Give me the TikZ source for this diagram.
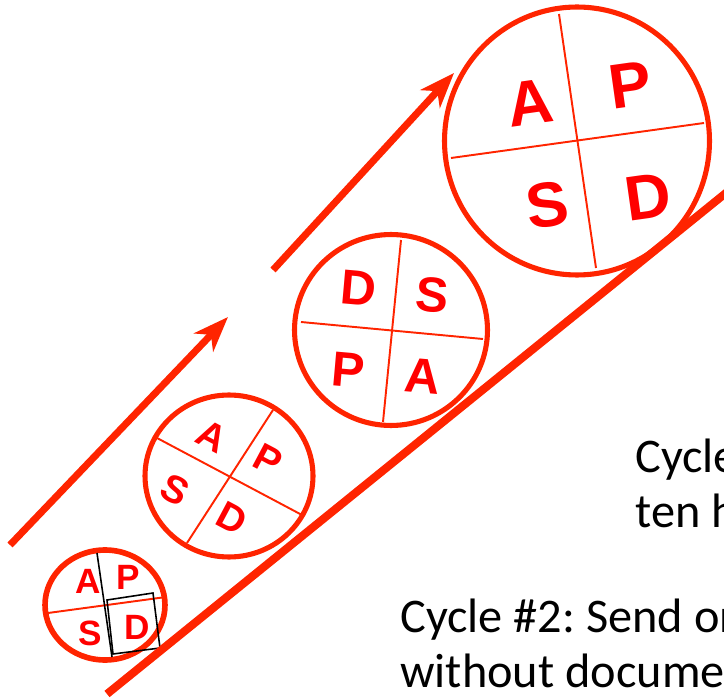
\documentclass[tikz,border=0pt]{standalone}
\usepackage{fontspec}
\setmainfont{Liberation Sans}
\newfontfamily\notefont{Carlito}
\usetikzlibrary{arrows.meta,shapes.geometric}
\definecolor{ringred}{HTML}{FF2400}
\definecolor{letterred}{HTML}{FF0000}
\frenchspacing

\begin{document}
\begin{tikzpicture}[
  x=0.02cm, y=-0.02cm,
  ring/.style={draw=ringred, line width=2.9pt, ellipse, inner sep=0pt},
  quarter/.style={draw=ringred, line width=1.1pt},
  phase/.style={text=letterred, font=\bfseries, inner sep=0pt},
  progress/.style={draw=ringred, line width=4pt,
    -{Stealth[length=20pt, width=15pt, inset=6pt]}},
  note/.style={anchor=base west, inner sep=0pt, align=left,
    font=\notefont\fontsize{27.5}{31.3}\selectfont}
]
\useasboundingbox (0,0) rectangle (724,699);
\clip (0,0) rectangle (724,699);

% Cycle 1: small, with the black box on D
\node[ring, minimum width=2.4cm, minimum height=2.2cm, line width=3.2pt] (c1) at (105,605) {};
\draw[quarter] (48,613) -- (166,597);
\draw[black, line width=0.9pt] (97,553) -- (112,657);
\draw[black, line width=0.9pt] (107,600) -- (153,593) -- (160,648) -- (113,654) -- cycle;
\node[phase, font=\fontsize{20}{20}\selectfont\bfseries] (c1a) at (88,581) {A};
\node[phase, font=\fontsize{20}{20}\selectfont\bfseries] (c1p) at (128,577) {P};
\node[phase, font=\fontsize{20}{20}\selectfont\bfseries] (c1s) at (90,633) {S};
\node[phase, font=\fontsize{20}{20}\selectfont\bfseries] (c1d) at (137,627) {D};

% Cycle 2
\node[ring, minimum width=3.36cm, minimum height=3.24cm] (c2) at (229,476) {};
\draw[quarter] (157,438) -- (302,515);
\draw[quarter] (273,410) -- (187,543);
\node[phase, rotate=-28, font=\fontsize{22}{22}\selectfont\bfseries] (c2a) at (212,436) {A};
\node[phase, rotate=-28, font=\fontsize{22}{22}\selectfont\bfseries] (c2p) at (268,460) {P};
\node[phase, rotate=-28, font=\fontsize{22}{22}\selectfont\bfseries] (c2s) at (175,490) {S};
\node[phase, rotate=-28, font=\fontsize{22}{22}\selectfont\bfseries] (c2d) at (232,518) {D};

% Cycle 3
\node[ring, minimum width=3.86cm, minimum height=3.82cm] (c3) at (391,330) {};
\draw[quarter] (301,322) -- (483,339);
\draw[quarter] (401,240) -- (383,422);
\node[phase, rotate=-5, font=\fontsize{28}{28}\selectfont\bfseries] (c3d) at (359,288) {D};
\node[phase, rotate=-5, font=\fontsize{28}{28}\selectfont\bfseries] (c3s) at (432,295) {S};
\node[phase, rotate=-5, font=\fontsize{28}{28}\selectfont\bfseries] (c3p) at (348,370) {P};
\node[phase, rotate=-5, font=\fontsize{28}{28}\selectfont\bfseries] (c3a) at (423,376) {A};

% Cycle 4: largest
\node[ring, minimum width=5.3cm, minimum height=5.36cm] (c4) at (577,141) {};
\draw[quarter] (451,158) -- (704,123);
\draw[quarter] (559,14) -- (596,268);
\node[phase, rotate=8, font=\fontsize{36}{36}\selectfont\bfseries] (c4a) at (530,103) {A};
\node[phase, rotate=8, font=\fontsize{36}{36}\selectfont\bfseries] (c4p) at (630,85) {P};
\node[phase, rotate=8, font=\fontsize{36}{36}\selectfont\bfseries] (c4s) at (547,205) {S};
\node[phase, rotate=8, font=\fontsize{36}{36}\selectfont\bfseries] (c4d) at (648,197) {D};

% Arrows and the guide line
\coordinate (r1start) at (10,545);
\coordinate (r1end) at (228,317);
\coordinate (r2start) at (273,270);
\coordinate (r2end) at (454,73);
\coordinate (basestart) at (107,694);
\coordinate (baseend) at (800,133);
\draw[progress] (r1start) -- (r1end);
\draw[progress] (r2start) -- (r2end);
\draw[draw=ringred, line width=4.6pt] (basestart) -- (baseend);

% Notes (run off the right edge, as in the slide)
\node[note] (note1) at (635,527) {Cycle\\ten h};
\node[note] (note2) at (400,687) {Cycle \#2: Send on\\without docume};
\end{tikzpicture}
\end{document}
